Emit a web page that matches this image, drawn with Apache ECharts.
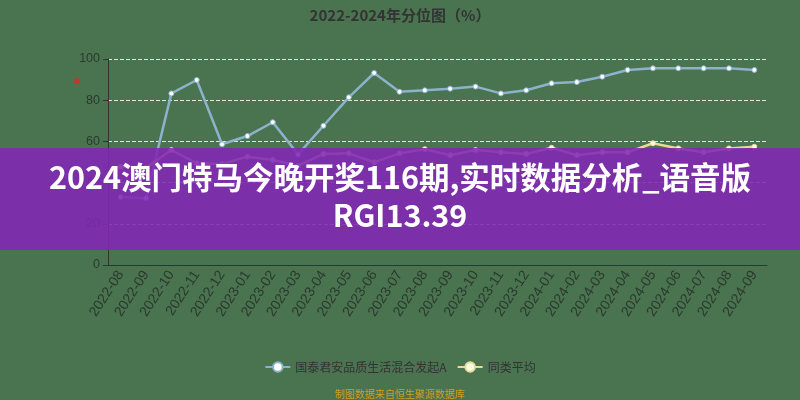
<!DOCTYPE html>
<html><head><meta charset="utf-8">
<script src="https://cdn.jsdelivr.net/npm/echarts@6/dist/echarts.min.js"></script>
<style>html,body{margin:0;padding:0;background:#4a7350;}#c{width:800px;height:400px;}</style>
</head><body><div id="c"></div>
<script>
const categories = ['2022-08','2022-09','2022-10','2022-11','2022-12','2023-01','2023-02','2023-03','2023-04','2023-05','2023-06','2023-07','2023-08','2023-09','2023-10','2023-11','2023-12','2024-01','2024-02','2024-03','2024-04','2024-05','2024-06','2024-07','2024-08','2024-09'];
const fundValues = [33.0, 32.4, 83.3, 89.8, 58.6, 62.6, 69.3, 53.7, 67.6, 81.4, 93.2, 84.1, 84.8, 85.6, 86.6, 83.3, 84.8, 88.2, 88.8, 91.4, 94.7, 95.5, 95.5, 95.5, 95.5, 94.7];
const avgValues = [47.7, 47.2, 55.8, 49.4, 49.0, 52.6, 51.0, 48.2, 53.9, 54.2, 49.9, 54.2, 56.2, 53.3, 55.8, 54.7, 53.9, 56.9, 53.3, 54.7, 54.7, 59.1, 56.6, 54.7, 56.6, 57.4];
const seriesNames = ['国泰君安品质生活混合发起A', '同类平均'];
const yTicks = {min: 0, max: 100, interval: 20};

const chart = echarts.init(document.getElementById('c'));
chart.setOption({
  backgroundColor: '#4a7350',
  animation: false,
  title: {
    text: '2022-2024年分位图（%）', left: 'center', top: 3,
    textStyle: {fontSize: 15, fontWeight: 'bold', color: '#333', fontFamily: 'Noto Sans CJK SC'}
  },
  grid: {left: 108, right: 33, top: 59, bottom: 135},
  legend: {
    bottom: 22, left: 'center', itemGap: 10, itemWidth: 25, itemHeight: 12,
    textStyle: {color: '#333', fontSize: 12, fontFamily: 'Noto Sans CJK SC'},
    data: seriesNames
  },
  xAxis: {
    type: 'category', data: categories, boundaryGap: true,
    axisLine: {lineStyle: {color: '#333'}},
    axisTick: {lineStyle: {color: '#333'}},
    axisLabel: {rotate: 57, color: '#2b3a2e', fontSize: 14, interval: 0, margin: 7, fontFamily: 'Liberation Sans'}
  },
  yAxis: {
    type: 'value', min: yTicks.min, max: yTicks.max, interval: yTicks.interval,
    axisLine: {show: true, lineStyle: {color: '#333'}},
    axisTick: {show: true, lineStyle: {color: '#333'}},
    axisLabel: {color: '#2b3a2e', fontSize: 12.5, fontFamily: 'Liberation Sans'},
    splitLine: {lineStyle: {type: 'dashed', color: '#e4e4e4'}}
  },
  series: [
    {name: seriesNames[0], type: 'line', data: fundValues, symbol: 'circle', symbolSize: 5,
     lineStyle: {width: 2.5, color: '#8cb2cc'}, itemStyle: {color: '#ffffff', borderColor: '#8cb2cc', borderWidth: 1}},
    {name: seriesNames[1], type: 'line', data: avgValues, symbol: 'circle', symbolSize: 5,
     lineStyle: {width: 2.5, color: '#e6dc9a'}, itemStyle: {color: '#fffbe6', borderColor: '#e6dc9a', borderWidth: 1}}
  ],
  graphic: [
    {type: 'circle', shape: {cx: 77, cy: 81, r: 3}, style: {fill: '#c0392b'}, z: 50},
    {type: 'rect', shape: {x: 0, y: 148, width: 800, height: 102}, style: {fill: 'rgba(130,38,180,0.88)'}, z: 100},
    {type: 'text', left: 'center', top: 162, z: 101,
     style: {text: '2024澳门特马今晚开奖116期,实时数据分析_语音版', fill: '#ffffff', fontSize: 30.5, fontWeight: 'bold', fontFamily: 'Noto Sans CJK SC'}},
    {type: 'text', left: 'center', top: 200, z: 101,
     style: {text: 'RGI13.39', fill: '#ffffff', fontSize: 30.5, fontWeight: 'bold', fontFamily: 'Noto Sans CJK SC'}},
    {type: 'text', left: 'center', top: 389, z: 101,
     style: {text: '制图数据来自恒生聚源数据库', fill: '#d4a020', fontSize: 10, fontFamily: 'Noto Sans CJK SC'}}
  ]
});
</script></body></html>
